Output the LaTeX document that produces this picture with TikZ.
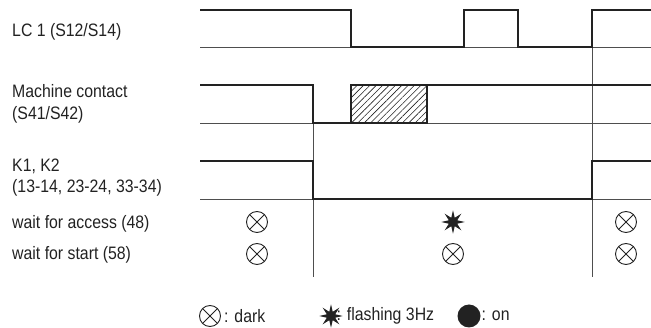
\documentclass[tikz,border=0pt]{standalone}
\usepackage{fontspec}
\setmainfont[FakeStretch=0.88]{Liberation Sans}
\usepackage{xcolor}
\usepackage{tikz}
\usetikzlibrary{shapes.geometric, patterns.meta}
\definecolor{ink}{HTML}{222222}

\begin{document}
\begin{tikzpicture}[
    x=1pt, y=-1pt,
    signal/.style={draw=ink, line width=1.7pt, line join=miter},
    baseline/.style={draw=ink!80, line width=0.8pt},
    marker/.style={draw=ink!80, line width=0.8pt},
    label/.style={anchor=base west, inner sep=0pt, text=ink, font=\fontsize{18}{20}\selectfont},
    lampoff/.style={circle, draw=ink, line width=0.9pt, minimum size=21pt, inner sep=0pt,
        path picture={\draw[ink, line width=0.9pt]
            (path picture bounding box.north west) -- (path picture bounding box.south east)
            (path picture bounding box.north east) -- (path picture bounding box.south west);}},
    lampflash/.style={star, star points=8, star point ratio=2.6, fill=ink, draw=ink, line width=1pt, minimum size=19pt, inner sep=0pt},
    lampon/.style={circle, fill=ink, minimum size=23pt, inner sep=0pt},
]
\useasboundingbox (0,0) rectangle (651,328);

% Labels
\node[label] (lc) at (12,37) {LC 1 (S12/S14)};
\node[label] (mc) at (12,98) {Machine contact};
\node[label] (mcs) at (12,120) {(S41/S42)};
\node[label] (kk) at (12,172) {K1, K2};
\node[label] (kks) at (12,193) {(13-14, 23-24, 33-34)};
\node[label] (acc) at (12,229) {wait for access (48)};
\node[label] (sta) at (12,260) {wait for start (58)};

% Base lines
\draw[baseline] (200,47) -- (651,47);
\draw[baseline] (200,123) -- (651,123);
\draw[baseline] (200,199) -- (651,199);

% Time markers
\draw[marker] (313,123) -- (313,277);
\draw[marker] (592,47) -- (592,277);

% Signals
\draw[signal] (200,10) -- (351,10) -- (351,47) -- (464,47) -- (464,10) -- (518,10)
    -- (518,47) -- (592,47) -- (592,10) -- (651,10);
\draw[signal] (200,85) -- (313,85) -- (313,123) -- (351,123);
\draw[signal, pattern={Lines[angle=45, distance=4.5pt, line width=0.6pt]}, pattern color=ink]
    (351,85) rectangle (427,123);
\draw[signal] (427,85) -- (651,85);
\draw[signal] (200,161) -- (313,161) -- (313,199) -- (592,199) -- (592,161) -- (651,161);

% Lamps
\node[lampoff] (acc1) at (257,222) {};
\node[lampoff] (sta1) at (257,254) {};
\node[lampflash] (acc2) at (453,222) {};
\node[lampoff] (sta2) at (453,254) {};
\node[lampoff] (acc3) at (626,222) {};
\node[lampoff] (sta3) at (626,254) {};

% Legend
\node[lampoff] (keyoff) at (210,316) {};
\node[label, anchor=west] (keyofftxt) at (224,316) {: dark};
\node[lampflash] (keyflash) at (331,316) {};
\node[label, anchor=west] (keyflashtxt) at (336.5,316) {: flashing 3Hz};
\node[lampon] (keyon) at (469,316) {};
\node[label, anchor=west] (keyontxt) at (481.5,316) {: on};

\end{tikzpicture}
\end{document}
